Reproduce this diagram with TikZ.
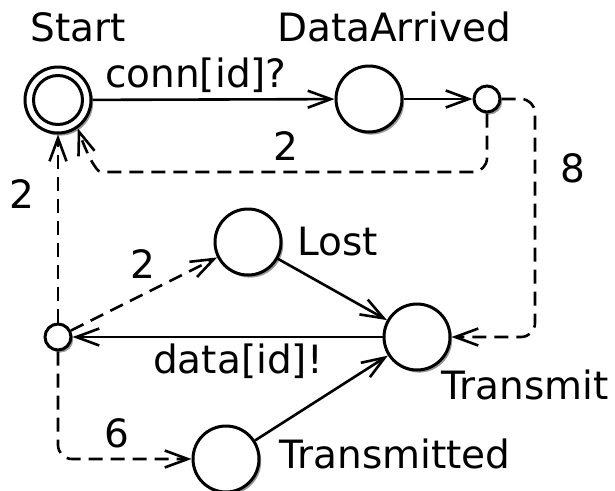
\documentclass[tikz,border=0pt]{standalone}
\usepackage{fontspec}
\setmainfont{DejaVu Sans}
\usetikzlibrary{arrows.meta,shadows}
\begin{document}
\begin{tikzpicture}[x=1pt,y=-1pt,
  state/.style={circle,draw,line width=3pt,fill=white,minimum size=66pt,inner sep=0pt,
    drop shadow={shadow xshift=2.2pt,shadow yshift=-2.6pt,fill=black!40,opacity=1}},
  branch/.style={state,minimum size=26pt},
  tr/.style={line width=2.6pt,-{Straight Barb[length=23pt,width=17pt,line width=2.6pt]}},
  dsh/.style={tr,dash pattern=on 14pt off 8pt},
  lbl/.style={font=\fontsize{39}{42}\selectfont,inner sep=0pt}]
\useasboundingbox (0,0) rectangle (615,490);
\node[state] (start) at (58,100) {};
\draw[line width=3pt] (start.center) circle[radius=24.5];
\node[state] (data) at (369,99) {};
\node[branch] (bt) at (487,99) {};
\node[state] (lost) at (248,242) {};
\node[state] (tx) at (417,337) {};
\node[branch] (bb) at (58,337) {};
\node[state] (txd) at (226,459) {};

\node[lbl,anchor=base] (lstart) at (78,41) {Start};
\node[lbl,anchor=base] (ldata) at (394,41) {DataArrived};
\node[lbl,anchor=base west] (llost) at (297,255) {Lost};
\node[lbl,anchor=base west] (ltx) at (441,399) {Transmit};
\node[lbl,anchor=base west] (ltxd) at (279,468) {Transmitted};

\draw[tr] (start) -- (data);
\node[lbl,anchor=base west] (lconn) at (105,87) {conn[id]?};
\draw[tr] (data) -- (bt);
\coordinate (c1) at (115,172);
\draw[dsh,rounded corners=14pt] (bt.south) |- (c1) .. controls (96,172) and (86,152) .. (start.-55);
\node[lbl,anchor=base] (l2a) at (286,160) {2};
\coordinate (c2) at (535,337);
\draw[dsh,rounded corners=14pt] (bt.east) -| (c2) -- (tx.east);
\node[lbl,anchor=base] (l8) at (573,182) {8};
\draw[tr] (tx) -- (bb);
\node[lbl,anchor=base west] (ldat) at (153,373) {data[id]!};
\draw[dsh] (bb) -- (start);
\node[lbl,anchor=base] (l2b) at (22,208) {2};
\draw[dsh] (bb) -- (lost);
\node[lbl,anchor=base] (l2c) at (143,278) {2};
\draw[dsh,rounded corners=14pt] (bb.south) |- (txd.west);
\node[lbl,anchor=base] (l6) at (117,447) {6};
\draw[tr] (lost) -- (tx);
\draw[tr] (txd) -- (tx);
\end{tikzpicture}
\end{document}
